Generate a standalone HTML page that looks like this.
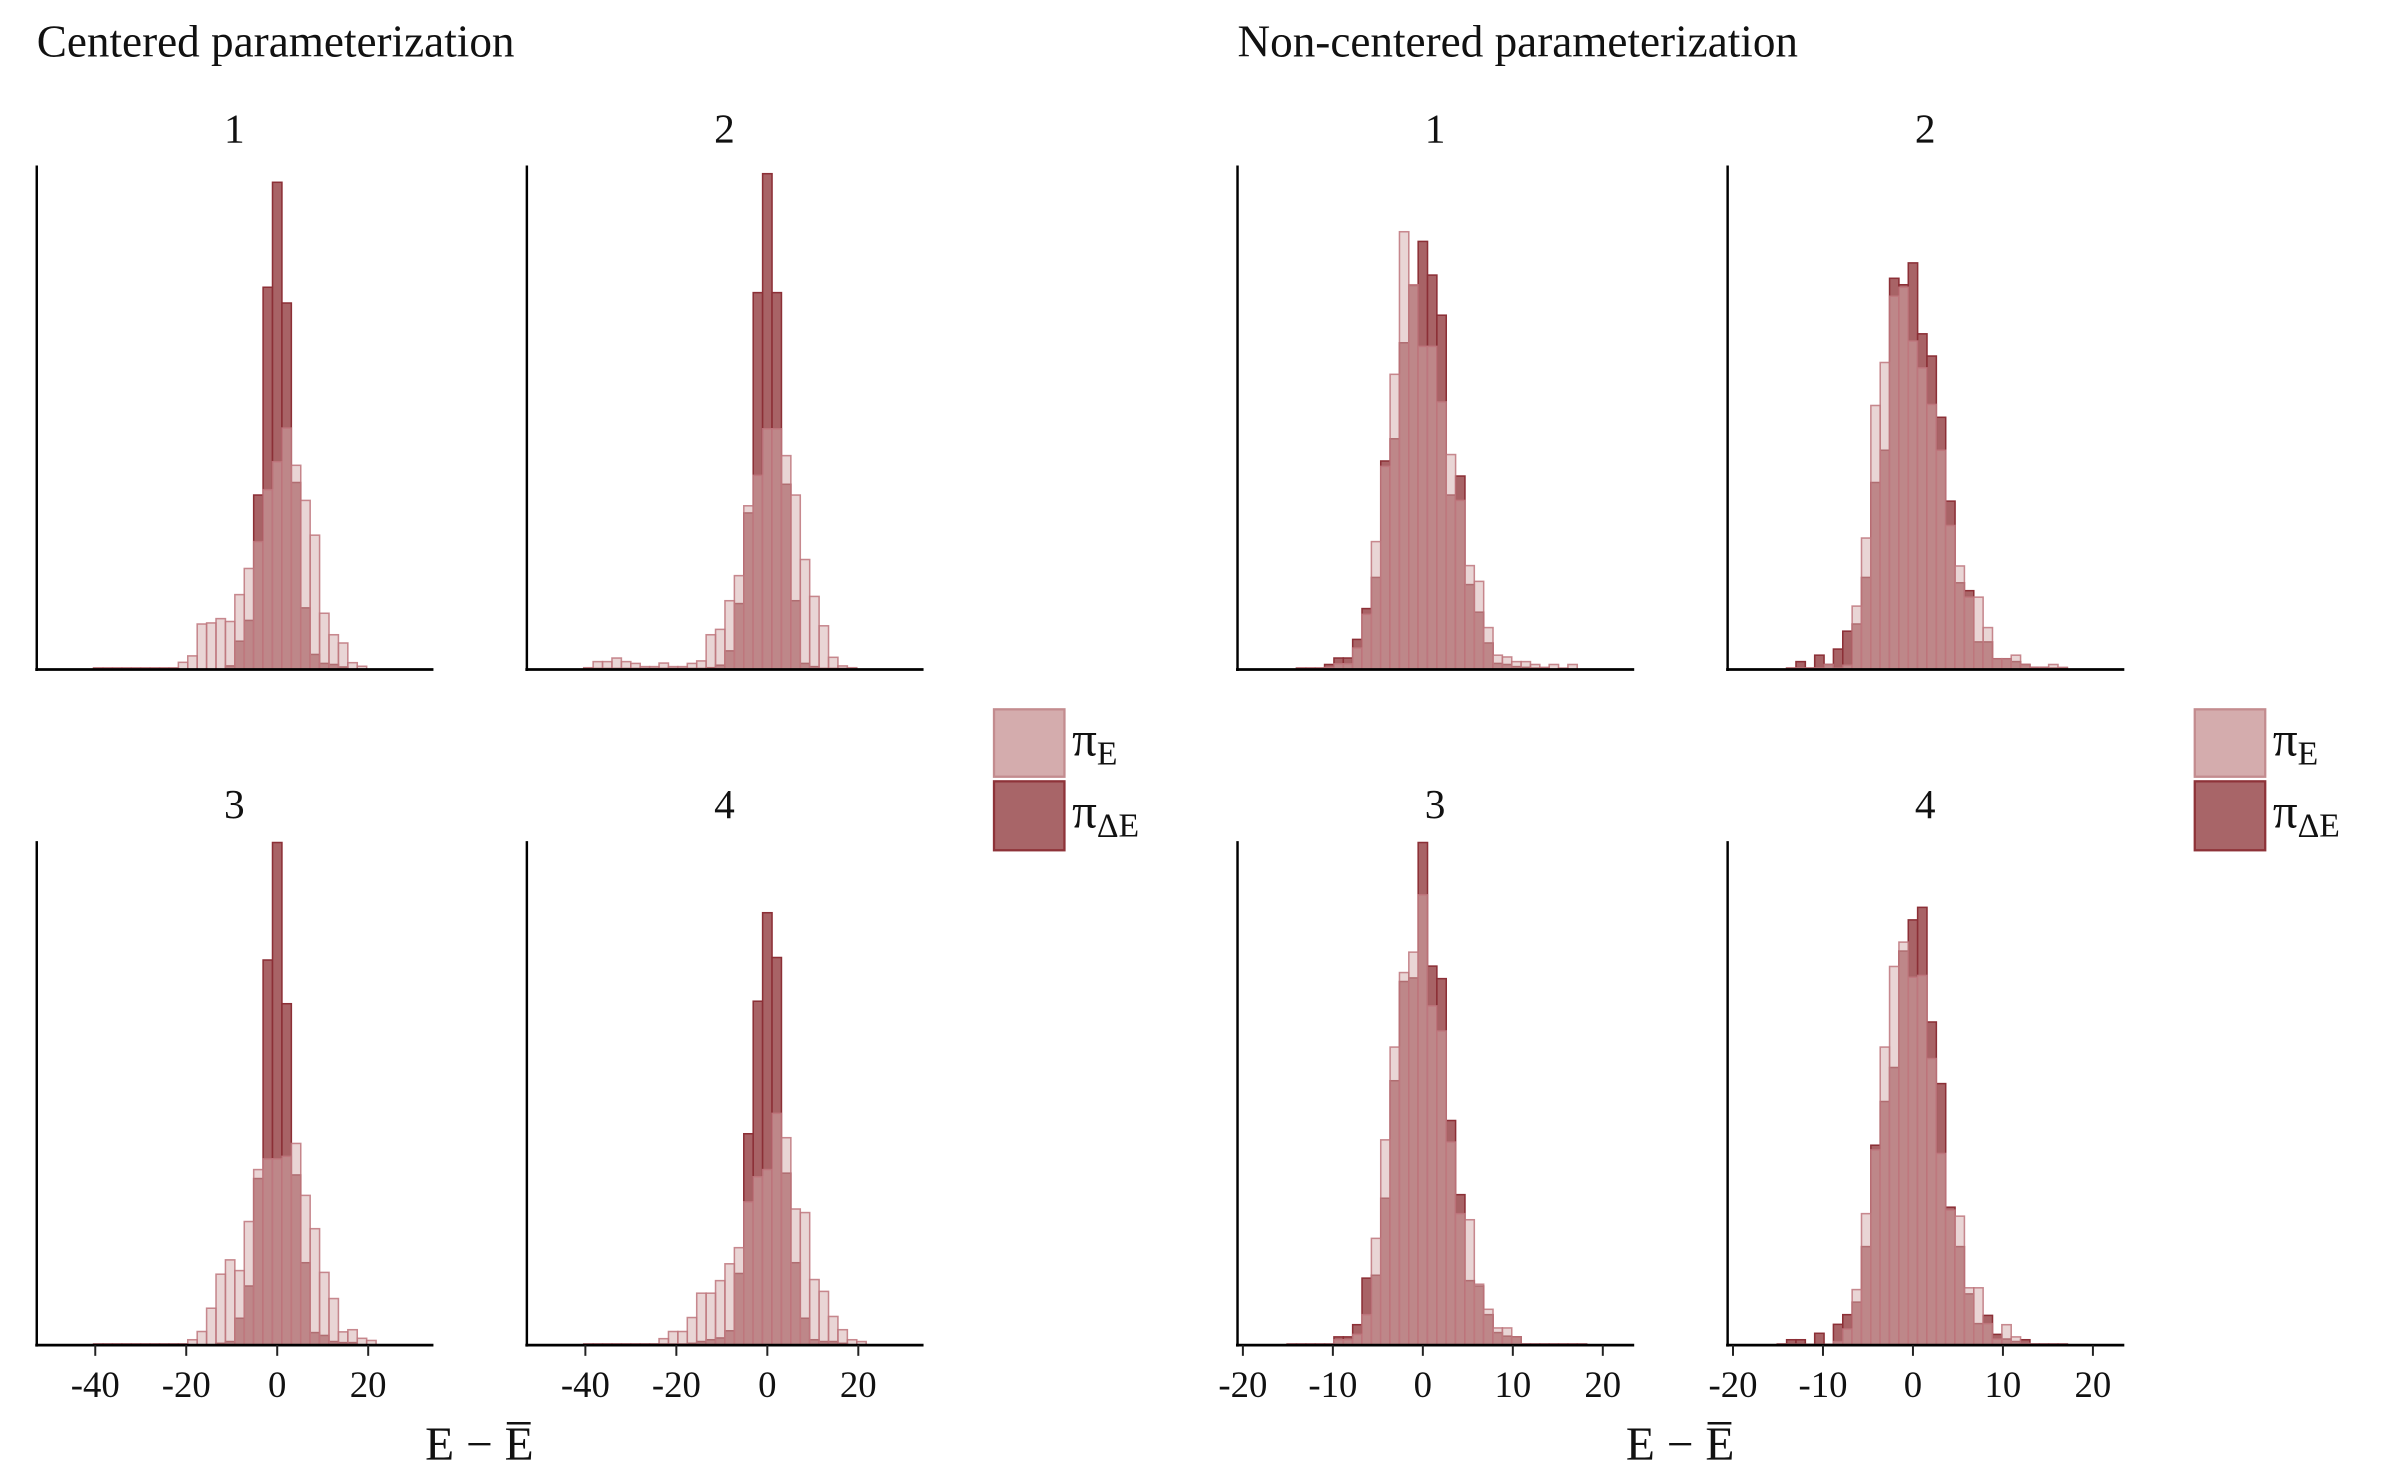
<!DOCTYPE html>
<html><head><meta charset="utf-8"><style>
html,body{margin:0;padding:0;background:#fff;}
svg{display:block;}
text{font-family:"Liberation Serif",serif;fill:#111;}
</style></head><body>
<svg id="chart" xmlns="http://www.w3.org/2000/svg" width="2400" height="1483" viewBox="0 0 1567 968" preserveAspectRatio="none">
<rect width="1567" height="968" fill="#fff"/>
<text x="24" y="37" font-size="29.5">Centered parameterization</text>
<text x="808" y="37" font-size="29.5">Non-centered parameterization</text>
<g id="panels"></g>
<text x="313" y="953" font-size="31" text-anchor="middle">E − E̅</text>
<text x="1097" y="953" font-size="31" text-anchor="middle">E − E̅</text>
<g>
<rect x="649" y="463" width="46" height="44" fill="#d4acad" stroke="#c38c8f" stroke-width="1.5"/>
<rect x="649" y="510" width="46" height="45" fill="#a86568" stroke="#8e3339" stroke-width="1.5"/>
<text x="700" y="493" font-size="32">π<tspan font-size="22" dy="6">E</tspan></text>
<text x="700" y="540" font-size="32">π<tspan font-size="22" dy="6">ΔE</tspan></text>
</g>
<g>
<rect x="1433" y="463" width="46" height="44" fill="#d4acad" stroke="#c38c8f" stroke-width="1.5"/>
<rect x="1433" y="510" width="46" height="45" fill="#a86568" stroke="#8e3339" stroke-width="1.5"/>
<text x="1484" y="493" font-size="32">π<tspan font-size="22" dy="6">E</tspan></text>
<text x="1484" y="540" font-size="32">π<tspan font-size="22" dy="6">ΔE</tspan></text>
</g>
</svg>
<script>
// Data: bin counts (relative units) per panel; kStart = index of first bin (bin centre = k * binWidth)
const c1Start = -19;
const c1Light = [4,4,4,4,4,4,4,4,4,20,38,127,130,142,134,209,282,357,502,580,674,570,472,375,157,97,74,19,9];
const c1Dark  = [4,4,4,4,4,4,4,4,4,0,0,0,0,0,10,79,137,487,1067,1360,1023,522,172,42,17,14,7,0,0];
const c2Start = -19;
const c2Light = [5,22,22,32,22,17,8,8,18,8,8,17,24,97,112,192,262,457,542,672,672,597,487,307,204,122,34,10,5];
const c2Dark  = [3,3,3,3,3,3,3,3,3,3,3,3,3,5,12,52,184,437,1052,1384,1052,517,192,17,8,3,3,3,0];
const c3Start = -19;
const c3Light = [3,3,3,3,3,3,3,3,3,3,15,38,103,198,238,208,345,490,520,520,527,563,418,325,203,130,37,43,19,13];
const c3Dark  = [3,3,3,3,3,3,3,3,3,3,0,0,0,5,10,75,165,465,1075,1403,953,475,230,35,27,10,7,7,0,0];
const c4Start = -19;
const c4Light = [3,3,3,3,3,3,3,3,18,38,38,77,145,145,180,227,272,400,470,490,647,579,380,370,183,150,80,43,15,10];
const c4Dark  = [3,3,3,3,3,3,3,3,3,3,3,5,10,15,20,40,200,590,960,1207,1082,480,230,75,15,10,10,5,0,0];
const n1Start = -13;
const n1Light = [4,4,4,6,16,16,60,154,357,567,824,1222,1074,902,902,747,600,472,290,246,117,40,35,22,22,14,6,14,4,14];
const n1Dark  = [4,4,4,14,32,32,84,170,257,582,644,912,1072,1195,1101,989,487,540,237,160,74,17,14,8,6,4,4,0,0,0];
const n2Start = -13;
const n2Light = [4,4,4,4,14,4,12,177,367,737,857,1042,1067,917,842,740,612,402,289,202,202,117,30,30,40,14,6,6,14,6];
const n2Dark  = [4,22,4,40,14,57,107,127,257,522,612,1092,1074,1135,937,875,704,470,242,220,77,77,30,30,22,14,6,6,4,4];
const n3Start = -14;
const n3Light = [3,3,3,3,3,15,15,30,85,298,573,832,1040,1097,1257,947,877,567,367,350,170,100,48,48,23,3,3,3,3,3,3,3];
const n3Dark  = [3,3,3,3,3,23,23,57,187,195,410,738,1015,1025,1403,1058,1023,627,420,180,165,85,35,25,23,3,3,3,3,3,3,3];
const n4Start = -14;
const n4Light = [3,3,3,2,2,2,10,45,155,367,545,832,1057,1125,1027,1032,800,535,377,360,160,160,60,17,57,23,5,3,3,3,3];
const n4Dark  = [3,15,15,2,33,2,58,85,120,275,558,680,775,1100,1187,1222,902,730,385,275,143,60,83,30,17,10,15,3,3,3,3];
const panelTitles = ["1","2","3","4"];
const leftTicks = [-40,-20,0,20];
const rightTicks = [-20,-10,0,10,20];
const leftBinWidth = 2.07;
const rightBinWidth = 1.04;
const countMax = 1407;

const NS = "http://www.w3.org/2000/svg";
const root = document.getElementById("panels");
function mk(tag, attrs, parent){
  const e = document.createElementNS(NS, tag);
  for (const k in attrs) e.setAttribute(k, attrs[k]);
  parent.appendChild(e);
  return e;
}
const panels = [
  {x0:24, top:108, base:437, kind:"L", start:c1Start, light:c1Light, dark:c1Dark, t:0, ticks:false, id:"centered-1"},
  {x0:344, top:108, base:437, kind:"L", start:c2Start, light:c2Light, dark:c2Dark, t:1, ticks:false, id:"centered-2"},
  {x0:24, top:549, base:878, kind:"L", start:c3Start, light:c3Light, dark:c3Dark, t:2, ticks:true, id:"centered-3"},
  {x0:344, top:549, base:878, kind:"L", start:c4Start, light:c4Light, dark:c4Dark, t:3, ticks:true, id:"centered-4"},
  {x0:808, top:108, base:437, kind:"R", start:n1Start, light:n1Light, dark:n1Dark, t:0, ticks:false, id:"noncentered-1"},
  {x0:1128, top:108, base:437, kind:"R", start:n2Start, light:n2Light, dark:n2Dark, t:1, ticks:false, id:"noncentered-2"},
  {x0:808, top:549, base:878, kind:"R", start:n3Start, light:n3Light, dark:n3Dark, t:2, ticks:true, id:"noncentered-3"},
  {x0:1128, top:549, base:878, kind:"R", start:n4Start, light:n4Light, dark:n4Dark, t:3, ticks:true, id:"noncentered-4"}
];
panels.forEach(p => {
  const g = mk("g", {}, root);
  
  
  const W = 259;
  const zeroOff = p.kind === "L" ? 157 : 121;
  const ppu = p.kind === "L" ? 2.97 : 5.875;
  const bw = p.kind === "L" ? leftBinWidth : rightBinWidth;
  const xs = v => p.x0 + zeroOff + v * ppu;
  const ys = c => p.base - c / countMax * (p.base - p.top);
  const title = mk("text", {x: p.x0 + 129, y: p.top - 15, "font-size": 27, "text-anchor":"middle"}, g);
  title.textContent = panelTitles[p.t];
  
  
  p.dark.forEach((c, i) => {
    if (c <= 0) return;
    const k = p.start + i;
    const xa = xs((k - 0.5) * bw), xb = xs((k + 0.5) * bw);
    const r = mk("rect", {x: xa, y: ys(c), width: xb - xa, height: p.base - ys(c), fill: "#a86366", stroke: "#8c2f36", "stroke-width": 1}, g);
    
    
  });
  p.light.forEach((c, i) => {
    if (c <= 0) return;
    const k = p.start + i;
    const xa = xs((k - 0.5) * bw), xb = xs((k + 0.5) * bw);
    const r = mk("rect", {x: xa, y: ys(c), width: xb - xa, height: p.base - ys(c), fill: "rgba(212,172,172,0.5)", stroke: "rgba(190,118,124,0.85)", "stroke-width": 1}, g);
    
    
  });
  const ya = mk("line", {x1: p.x0, y1: p.top, x2: p.x0, y2: p.base + 1, stroke: "#000", "stroke-width": 1.6}, g);
  
  
  const xa = mk("line", {x1: p.x0 - 1, y1: p.base, x2: p.x0 + W, y2: p.base, stroke: "#000", "stroke-width": 1.8}, g);
  
  
  if (p.ticks) {
    const ticks = p.kind === "L" ? leftTicks : rightTicks;
    ticks.forEach(t => {
      const tl = mk("line", {x1: xs(t), y1: p.base, x2: xs(t), y2: p.base + 7, stroke: "#222", "stroke-width": 1.3}, g);
      
      
      const tx = mk("text", {x: xs(t), y: p.base + 34, "font-size": 24, "text-anchor": "middle", fill: "#333"}, g);
      tx.textContent = String(t);
      
      
    });
  }
});
</script>
</body></html>
